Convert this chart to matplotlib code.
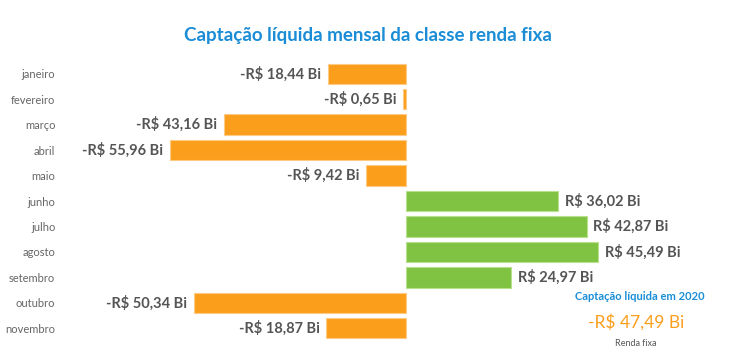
import matplotlib.pyplot as plt

months = ["janeiro", "fevereiro", "março", "abril", "maio", "junho",
          "julho", "agosto", "setembro", "outubro", "novembro"]
values = [-18.44, -0.65, -43.16, -55.96, -9.42, 36.02,
          42.87, 45.49, 24.97, -50.34, -18.87]
total = -47.49

orange = "#FB9E1C"
green = "#80C242"


def fmt(v):
    s = f"{abs(v):.2f}".replace(".", ",")
    return ("-" if v < 0 else "") + "R$ " + s + " Bi"


plt.rcParams['font.family'] = ['Lato', 'DejaVu Sans']

fig = plt.figure(figsize=(7.5, 3.55), dpi=100)
ax = fig.add_axes([65 / 750, 1 - 341 / 355, 675 / 750, 280 / 355])

colors = [green if v > 0 else orange for v in values]
edges = ["#B9E08F" if v > 0 else "#FDCB85" for v in values]
ax.barh(range(len(months)), values, height=0.8, color=colors,
        edgecolor=edges, linewidth=0.8)

for i, v in enumerate(values):
    off = 1.6 if v > 0 else -1.6
    ax.text(v + off, i, fmt(v), ha="left" if v > 0 else "right",
            va="center", fontsize=10.5, fontweight="bold", color="#555555")

ax.set_xlim(-80.8, 79.2)
ax.set_ylim(10.5, -0.5)
ax.set_yticks(range(len(months)))
ax.set_yticklabels(months, fontsize=8, color="#666666")
ax.tick_params(axis="y", length=0, pad=7)
ax.set_xticks([])
for sp in ax.spines.values():
    sp.set_visible(False)

fig.text(0.49, 1 - 35 / 355, "Captação líquida mensal da classe renda fixa",
         ha="center", va="center", fontsize=13.5, fontweight="bold",
         color="#1A8DD6")

fig.text(640 / 750, 1 - 297 / 355, "Captação líquida em 2020", ha="center",
         va="center", fontsize=8, fontweight="bold", color="#1A8DD6")
fig.text(636 / 750, 1 - 322 / 355, fmt(total), ha="center", va="center",
         fontsize=12.5, color="#FB9E1C")
fig.text(636 / 750, 1 - 343 / 355, "Renda fixa", ha="center", va="center",
         fontsize=6.5, color="#555555")

fig.savefig("out.png", dpi=100)
